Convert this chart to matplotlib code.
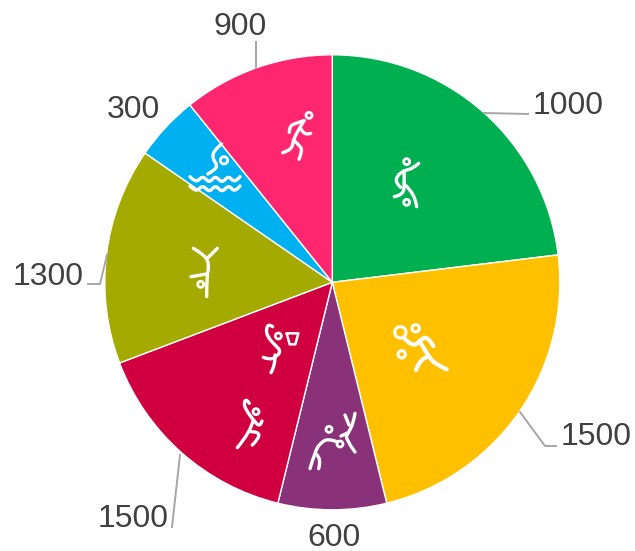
import matplotlib
matplotlib.use("Agg")
import matplotlib.pyplot as plt
from matplotlib.path import Path
from matplotlib.patches import PathPatch, Circle

plt.rcParams['font.family'] = ['Liberation Sans', 'DejaVu Sans']

# slice sizes and the labels printed next to them (they differ in the source chart)
valores = [1500, 1500, 500, 1000, 1000, 300, 700]
etiquetas = ["1000", "1500", "600", "1500", "1300", "300", "900"]
colores = ["#00B050", "#FFC000", "#89327A", "#D00040", "#A4AA00", "#00B0F0", "#FF2670"]

W, H = 635, 551
fig = plt.figure(figsize=(W / 100, H / 100), dpi=100)
ax = fig.add_axes([0, 0, 1, 1])

ax.pie(valores, colors=colores, startangle=90, counterclock=False,
       center=(332.3, H - 282.3), radius=227.5, frame=False,
       wedgeprops=dict(edgecolor="white", linewidth=1))
ax.set_xlim(0, W)
ax.set_ylim(0, H)
ax.set_aspect("equal")
ax.axis("off")

# label position (pixels, y down) and alignment
pos_etiquetas = [(533, 106, "left"), (561, 437, "left"), (334, 537.5, "center"),
                 (169, 519, "right"), (84, 277, "right"), (160, 110, "right"),
                 (240, 27, "center")]
for txt, (x, y, ha) in zip(etiquetas, pos_etiquetas):
    ax.text(x, H - y, txt, fontsize=23, color="#404040", ha=ha, va="center")

# leader lines
guias = [
    [(484, 113), (528, 114)],
    [(520, 412), (545, 446), (556, 446)],
    [(180, 455), (172, 527)],
    [(107, 255), (100, 284), (88, 284)],
    [(256, 42), (256, 68)],
]
for g in guias:
    ax.plot([p[0] for p in g], [H - p[1] for p in g], color="#A6A6A6", lw=1.4, zorder=2)


# helpers for the white pictograms, given in zoomed-crop coordinates
def trazo(puntos, ox, oy, lw=2.4, suave=True):
    pts = [(ox + x / 3, H - (oy + y / 3)) for x, y in puntos]
    if suave and len(pts) > 2:
        verts = [pts[0]]
        codes = [Path.MOVETO]
        for i in range(1, len(pts) - 1):
            mid = ((pts[i][0] + pts[i + 1][0]) / 2, (pts[i][1] + pts[i + 1][1]) / 2)
            if i == len(pts) - 2:
                mid = pts[-1]
            verts += [pts[i], mid]
            codes += [Path.CURVE3, Path.CURVE3]
    else:
        verts = pts
        codes = [Path.MOVETO] + [Path.LINETO] * (len(pts) - 1)
    ax.add_patch(PathPatch(Path(verts, codes), fc="none", ec="white", lw=lw,
                           capstyle="round", joinstyle="round", zorder=5))


def cabeza(x, y, r, ox, oy, lw=2.0):
    ax.add_patch(Circle((ox + x / 3, H - (oy + y / 3)), r / 3, fc="none", ec="white",
                        lw=lw, zorder=5))


# crop 1 origin
ox, oy = 180, 100
# runner
cabeza(387, 46, 9, ox, oy)
trazo([(372, 62), (345, 70), (328, 80), (328, 97)], ox, oy)
trazo([(372, 62), (355, 90), (340, 120), (335, 150), (308, 158)], ox, oy)
trazo([(362, 85), (372, 108), (392, 100)], ox, oy)
trazo([(340, 120), (362, 138), (366, 155), (357, 178)], ox, oy)
# football
cabeza(680, 185, 9, ox, oy)
cabeza(680, 307, 9, ox, oy)
trazo([(716, 190), (700, 205), (672, 212), (650, 228), (648, 250), (662, 262)], ox, oy)
trazo([(672, 212), (674, 255), (668, 285), (643, 290)], ox, oy)
trazo([(675, 255), (705, 280), (710, 320)], ox, oy)
# swimmer
cabeza(132, 181, 11, ox, oy)
trazo([(125, 132), (102, 150), (97, 175), (112, 195), (105, 210), (83, 222)], ox, oy)
for yy in (238, 266):
    trazo([(30, yy - 8), (48, yy + 12), (68, yy - 12), (88, yy + 12), (106, yy - 12),
           (126, yy + 12), (146, yy - 12), (164, yy + 12), (180, yy - 8)], ox, oy)
# diver
cabeza(62, 553, 9, ox, oy)
trazo([(80, 590), (80, 530), (88, 495), (75, 465), (40, 445)], ox, oy)
trazo([(112, 445), (85, 472)], ox, oy)
trazo([(33, 530), (80, 522)], ox, oy)

# crop 2 origin
ox, oy = 220, 310
# basketball
cabeza(175, 78, 9, ox, oy)
trazo([(158, 50), (148, 42), (138, 55), (142, 80), (165, 105), (182, 122), (172, 138),
       (150, 150), (130, 142)], ox, oy)
trazo([(165, 135), (166, 165), (153, 188)], ox, oy)
trazo([(200, 70), (235, 70), (226, 103), (209, 103), (200, 70)], ox, oy, lw=1.8, suave=False)
# handball
cabeza(108, 305, 9, ox, oy)
trazo([(88, 280), (80, 267), (71, 278), (78, 300), (100, 330), (120, 352), (126, 333)], ox, oy)
trazo([(100, 330), (92, 365), (52, 413)], ox, oy)
trazo([(92, 365), (116, 365), (117, 385), (97, 405)], ox, oy)
# judo / wrestling
cabeza(327, 358, 9, ox, oy)
cabeza(360, 402, 9, ox, oy)
trazo([(350, 395), (325, 385), (300, 400), (285, 425), (270, 476)], ox, oy)
trazo([(288, 432), (305, 445), (296, 476)], ox, oy)
trazo([(405, 310), (400, 340), (385, 368), (375, 385), (405, 426)], ox, oy)
trazo([(375, 315), (387, 345)], ox, oy)
trazo([(385, 368), (363, 378)], ox, oy)
# tennis
cabeza(541, 67, 17, ox, oy, lw=2.2)
cabeza(587, 55, 11, ox, oy, lw=2.2)
cabeza(545, 133, 11, ox, oy, lw=2.2)
trazo([(553, 85), (580, 114), (605, 85), (625, 82), (640, 108)], ox, oy, lw=3)
trazo([(600, 95), (625, 140), (650, 165), (680, 178)], ox, oy, lw=3)
trazo([(625, 140), (600, 145), (588, 180)], ox, oy, lw=3)

fig.savefig("out.png", dpi=100)
